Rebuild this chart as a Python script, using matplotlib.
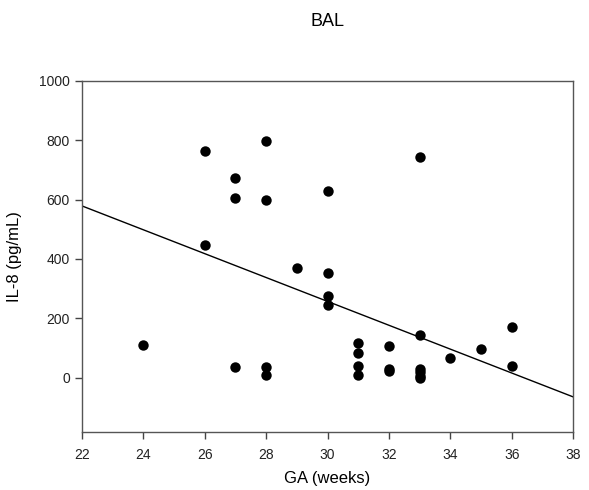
import numpy as np
import matplotlib
matplotlib.use("Agg")
import matplotlib.pyplot as plt

plt.rcParams['font.family'] = ['Liberation Sans', 'DejaVu Sans']

# values
ga = [24, 26, 26, 27, 27, 27, 28, 28, 28, 28, 29, 30, 30, 30, 30,
      31, 31, 31, 31, 32, 32, 32, 33, 33, 33, 33, 33, 33, 34, 35, 36, 36]
il8 = [111, 763, 447, 673, 606, 36, 796, 598, 36, 9, 368, 629, 351, 276, 245,
       116, 82, 39, 8, 108, 30, 22, 744, 145, 30, 18, 7, 0, 66, 97, 171, 38]

# regression line ends
fit_x = [22, 38]
fit_y = [579, -65]

xticks = [22, 24, 26, 28, 30, 32, 34, 36, 38]
yticks = [0, 200, 400, 600, 800, 1000]

fig = plt.figure(figsize=(5.89, 4.90), dpi=100)
ax = fig.add_axes([0.1387, 0.119, 0.8347, 0.716])

ax.plot(fit_x, fit_y, color='black', lw=1.0)
ax.plot(ga, il8, 'o', color='black', markersize=7.5, markeredgewidth=0)

ax.set_xlim(22, 38)
ax.set_ylim(-182, 1000)
ax.set_xticks(xticks)
ax.set_yticks(yticks)
ax.tick_params(direction='out', length=5, width=1, colors='#444444',
               labelsize=10, labelcolor='#222222', top=False, right=False)
ax.tick_params(axis='x', pad=7)
for s in ax.spines.values():
    s.set_color('#555555')
    s.set_linewidth(1.0)

ax.set_xlabel("GA (weeks)", fontsize=12, labelpad=6)
ax.set_ylabel("IL-8 (pg/mL)", fontsize=12, labelpad=12)
fig.text(0.556, 1 - 21 / 490, "BAL", fontsize=13, ha='center', va='center')

fig.savefig("out.png", dpi=100)
